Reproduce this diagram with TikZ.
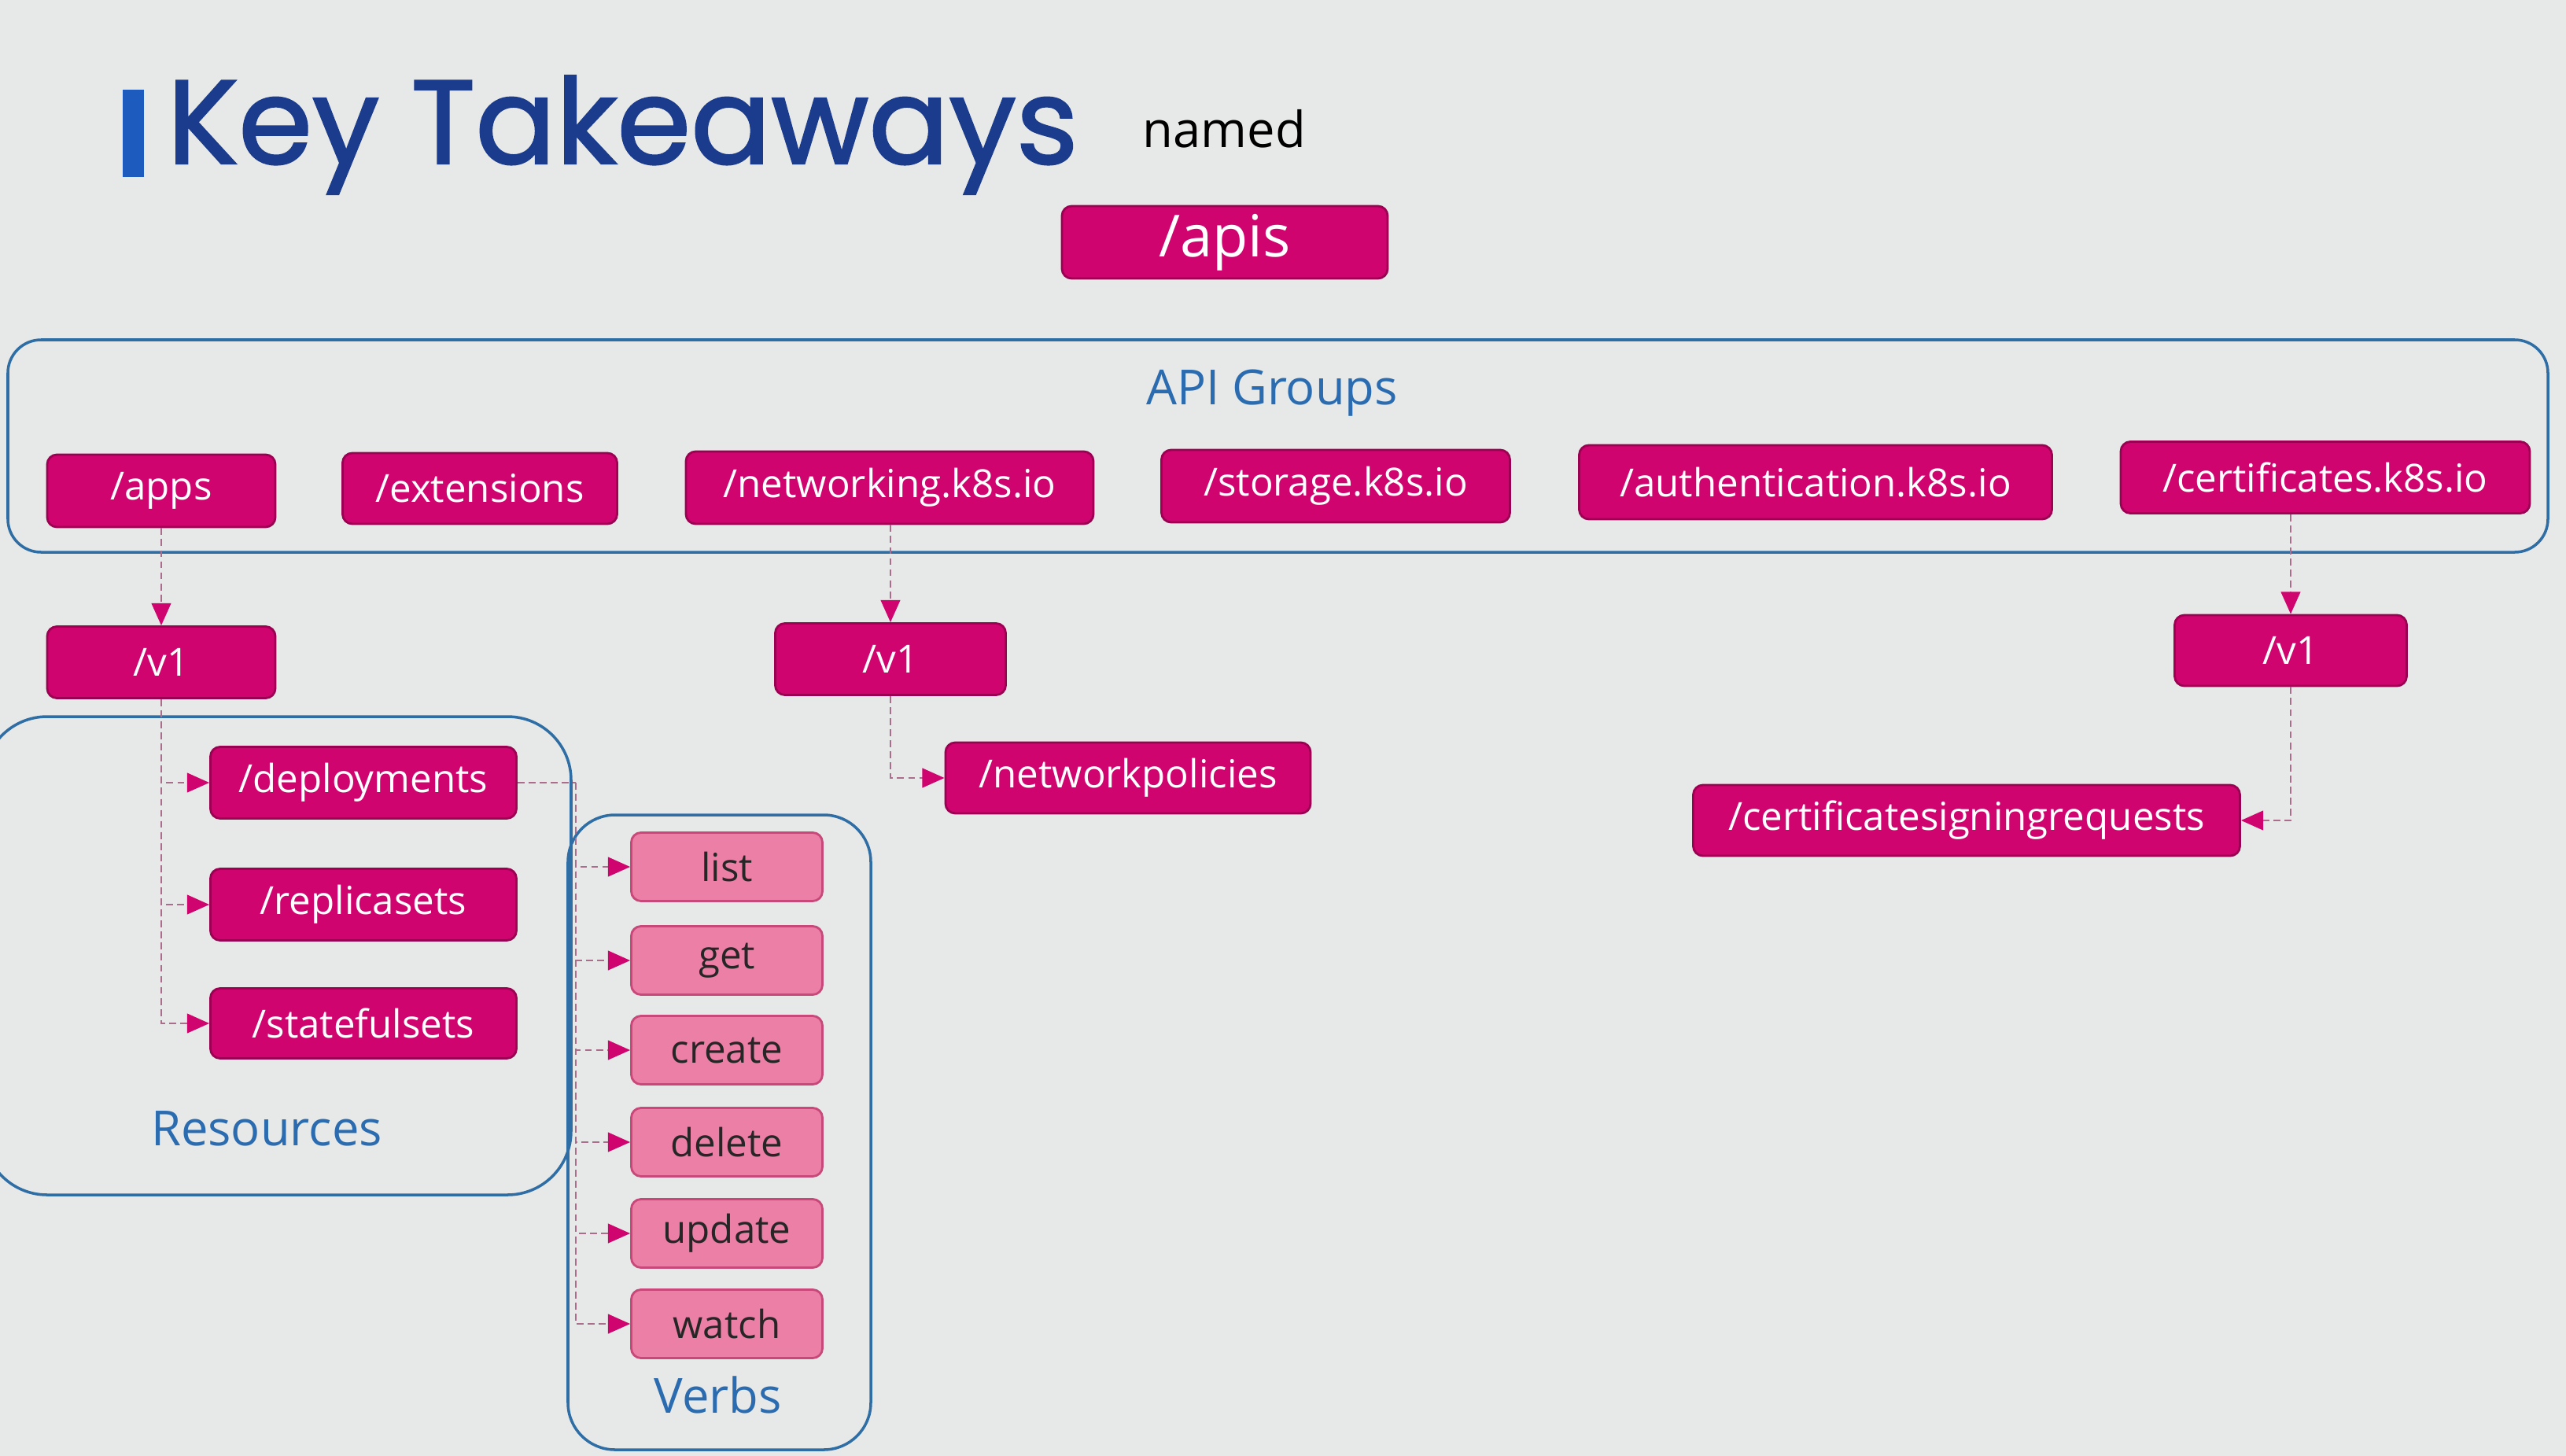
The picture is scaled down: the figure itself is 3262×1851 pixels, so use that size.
\documentclass[tikz,border=0pt]{standalone}
\usepackage{fontspec}
\setmainfont{Open Sans}
\newfontfamily\titlefont{Poppins}[FakeBold=1.6]
\usetikzlibrary{arrows.meta}
\definecolor{bg}{HTML}{E7E9E8}
\definecolor{mag}{HTML}{D0046E}
\definecolor{magdark}{HTML}{9C0052}
\definecolor{pinkfill}{HTML}{EC7FA6}
\definecolor{pinkdark}{HTML}{C8487A}
\definecolor{blueline}{HTML}{2F6EA5}
\definecolor{bluetext}{HTML}{2B6CB0}
\definecolor{titleblue}{HTML}{1B3C8C}
\definecolor{barblue}{HTML}{1E5BBF}
\definecolor{connc}{HTML}{AA6E8C}
\tikzset{
  sz/.style 2 args={minimum width=#1*0.01cm, minimum height=#2*0.01cm},
  mbox/.style={rectangle, rounded corners=3.5pt, fill=mag, draw=magdark, line width=0.8pt,
    text=white, inner sep=0pt, font=\fontsize{14}{16}\selectfont},
  vbox/.style={rectangle, rounded corners=3.5pt, fill=pinkfill, draw=pinkdark, line width=0.8pt,
    text=black!85, inner sep=0pt, font=\fontsize{14}{16}\selectfont},
  grp/.style={rectangle, draw=blueline, line width=1pt, inner sep=0pt},
  glabel/.style={text=bluetext, font=\fontsize{17.5}{20}\selectfont, inner sep=0pt},
  conn/.style={draw=connc, line width=0.6pt, dash pattern=on 2.5pt off 1.5pt,
    -{Triangle[length=8pt,width=7pt,color=mag]}},
  connplain/.style={draw=connc, line width=0.6pt, dash pattern=on 2.5pt off 1.5pt},
}
\begin{document}
\begin{tikzpicture}[x=0.01cm, y=-0.01cm]
\fill[bg] (0,0) rectangle (3262,1851);
\useasboundingbox (0,0) rectangle (3262,1851);

% title
\fill[barblue] (156,114) rectangle (183,225);
\node[anchor=base west, inner sep=0pt, text=titleblue, font=\titlefont\fontsize{43}{48}\selectfont] (title) at (212,208) {Key Takeaways};
\node[anchor=base west, inner sep=0pt, text=black, font=\fontsize{18}{22}\selectfont] (named) at (1452,187) {named};

% containers
\node[grp, rounded corners=12pt, sz={3229}{270}] (apigroups) at (1624.5,567) {};
\node[glabel] (apilabel) at (1617,500) {API Groups};
\node[grp, rounded corners=23pt, sz={747}{608}] (resbox) at (352.5,1215) {};
\node[glabel] (reslabel) at (339,1435) {Resources};
\node[grp, rounded corners=17pt, sz={385}{807}] (verbbox) at (914.5,1439.5) {};
\node[glabel] (verblabel) at (913,1773) {Verbs};

% /apis
\node[mbox, sz={414}{92}, font=\fontsize{21}{24}\selectfont] (apis) at (1557,308) {/apis};

% groups
\node[mbox, sz={290}{92}] (apps) at (205,624) {/apps};
\node[mbox, sz={349}{90}] (extensions) at (610,621) {/extensions};
\node[mbox, sz={518}{92}] (networking) at (1131,620) {/networking.k8s.io};
\node[mbox, sz={443}{92}] (storage) at (1698,618) {/storage.k8s.io};
\node[mbox, sz={601}{94}] (authentication) at (2308,613) {/authentication.k8s.io};
\node[mbox, sz={520}{91}] (certificates) at (2956,607) {/certificates.k8s.io};

% versions
\node[mbox, sz={290}{91}] (v1a) at (205,842) {/v1};
\node[mbox, sz={293}{91}] (v1b) at (1132,838) {/v1};
\node[mbox, sz={295}{90}] (v1c) at (2912,827) {/v1};

% resources
\node[mbox, sz={389}{91}] (deployments) at (462,995) {/deployments};
\node[mbox, sz={389}{91}] (replicasets) at (462,1150) {/replicasets};
\node[mbox, sz={389}{89}] (statefulsets) at (462,1301) {/statefulsets};
\node[mbox, sz={464}{90}] (networkpolicies) at (1434,989) {/networkpolicies};
\node[mbox, sz={695}{90}] (csr) at (2500,1043) {/certificatesigningrequests};

% verbs
\node[vbox, sz={243}{87}] (list) at (924,1102) {list};
\node[vbox, sz={243}{87}] (get) at (924,1221) {get};
\node[vbox, sz={243}{87}] (create) at (924,1335) {create};
\node[vbox, sz={243}{87}] (delete) at (924,1452) {delete};
\node[vbox, sz={243}{87}] (update) at (924,1568) {update};
\node[vbox, sz={243}{87}] (watch) at (924,1683) {watch};

% connectors
\draw[conn] (apps.south) -- (v1a.north);
\draw[conn] (v1b.north |- networking.south) -- (v1b.north);
\draw[conn] (v1c.north |- certificates.south) -- (v1c.north);

\draw[conn] (v1a.south) |- (deployments.west);
\draw[conn] (v1a.south) |- (replicasets.west);
\draw[conn] (v1a.south) |- (statefulsets.west);

\draw[conn] (v1b.south) |- (networkpolicies.west);
\draw[conn] (v1c.south) |- (csr.east);

\coordinate (vt) at (732,995);
\draw[connplain] (deployments.east) -- (vt);
\foreach \v in {list,get,create,delete,update,watch}
  \draw[conn] (vt) |- (\v.west);
\end{tikzpicture}
\end{document}
